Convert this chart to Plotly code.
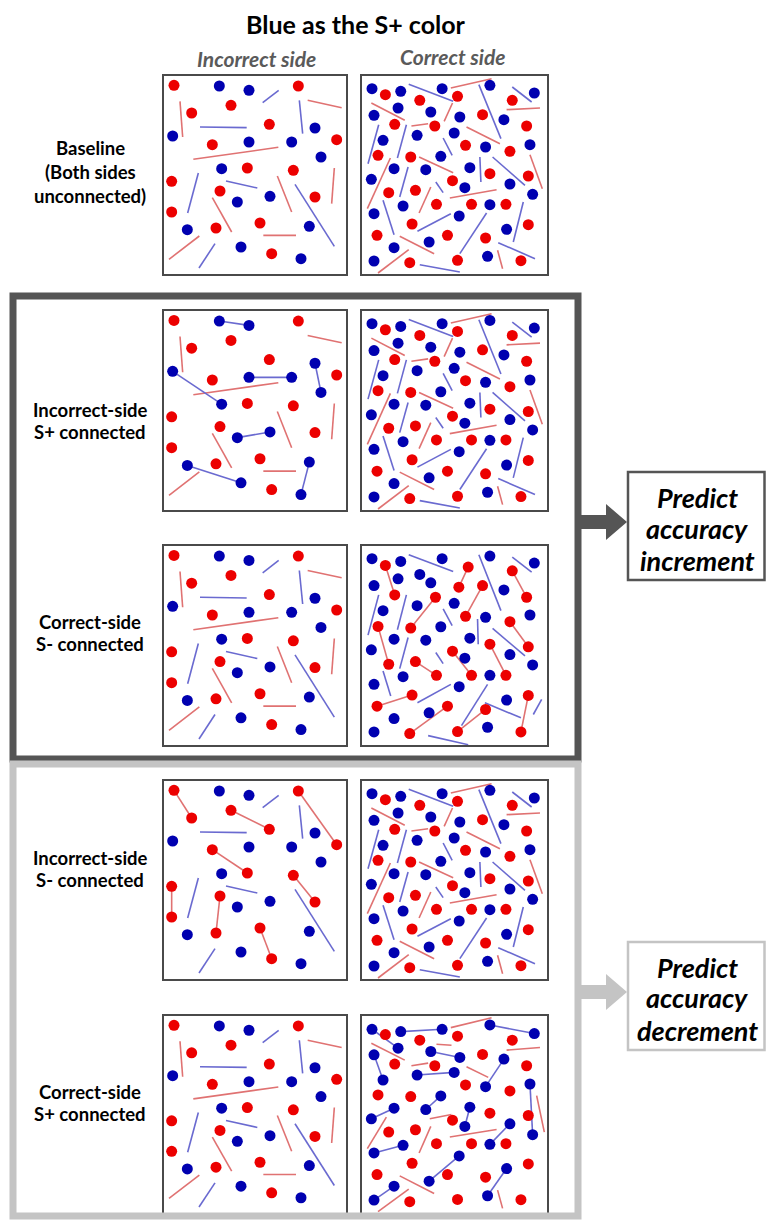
import plotly.graph_objects as go

W, H = 774, 1228
OFF = 8  # default page margin of the html body
FW, FH = W - 2 * OFF, H - 2 * OFF

# ---------------- data: dot / line positions inside each stimulus panel ----------------
# Incorrect side (shared layout)
INC_RED = [(42,40),(415,42),(213,100),(95,123),(328,157),(530,203),(157,218),(262,288),
           (400,295),(35,328),(180,357),(465,375),(35,420),(300,453),(168,468),(335,545)]
INC_BLUE = [(178,42),(267,55),(465,168),(38,192),(267,210),(395,210),(483,255),(185,290),
            (330,373),(232,390),(448,463),(82,473),(243,525),(423,560)]
INC_RED_LINES = [((60,88),(68,195)),((443,85),(545,107)),((100,262),(355,226)),((523,288),(515,395)),
                 ((352,312),(395,420)),((157,377),(215,480)),((310,490),(408,490)),((27,562),(118,492))]
INC_BLUE_LINES = [((308,92),(356,55)),((418,85),(428,185)),((120,165),(260,167)),((198,327),(292,348)),
                  ((115,303),(83,423)),((405,337),(523,523)),((165,515),(117,588))]
INC_BLUE_PAIRS = [((178,42),(267,55)),((38,192),(185,290)),((267,210),(395,210)),((465,168),(483,255)),
                  ((232,390),(330,373)),((82,473),(243,525)),((448,463),(423,560))]
INC_RED_PAIRS = [((42,40),(95,123)),((213,100),(328,157)),((415,42),(530,203)),((157,218),(262,288)),
                 ((400,295),(465,375)),((35,328),(35,420)),((180,357),(168,468)),((300,453),(335,545))]

# Correct side (baseline layout)
COR_RED = [(82,68),(185,85),(298,73),(462,85),(373,128),(110,157),(230,162),(505,162),(322,220),
           (455,238),(60,250),(158,255),(510,312),(395,305),(283,326),(92,362),(172,355),(235,397),
           (340,397),(443,397),(162,456),(510,458),(57,490),(268,490),(382,498),(155,572),(298,565),(488,566)]
COR_BLUE = [(42,50),(128,58),(252,50),(395,40),(528,63),(120,108),(218,120),(48,130),(305,135),
            (437,143),(177,190),(288,183),(75,205),(515,218),(382,225),(248,253),(108,290),(203,293),
            (335,287),(40,322),(455,336),(320,347),(523,367),(135,402),(395,398),(48,425),(303,432),
            (445,472),(108,527),(213,510),(48,567),(388,553)]
COR_RED_LINES = [((278,48),(400,20)),((40,93),(140,145)),((445,113),(545,108)),((160,162),(210,155)),
                 ((258,148),(283,93)),((325,165),(425,215)),((515,248),(552,350)),((183,255),(285,302)),
                 ((28,410),(97,258)),((183,423),(218,345)),((275,378),(415,353)),((125,493),(228,545)),
                 ((60,603),(152,533)),((418,535),(433,590))]
COR_BLUE_LINES = [((152,37),(285,88)),((362,38),(428,200)),((462,45),(520,90)),((30,275),(62,158)),
                  ((118,258),(145,158)),((255,198),(282,250)),((125,375),(150,285)),((233,330),(255,362)),
                  ((365,255),(368,330)),((403,255),(500,340)),((75,385),(108,488)),((178,478),(278,425)),
                  ((305,545),(385,423)),((465,510),(495,390)),((420,512),(530,560)),((185,578),(305,600))]

# Correct side, S- (red) connected
COR3_BLUE = [(42,50),(128,58),(252,50),(395,42),(528,63),(120,110),(185,97),(218,122),(48,130),
             (437,143),(177,190),(288,183),(75,205),(515,218),(382,225),(248,253),(108,290),(203,293),
             (335,287),(40,322),(455,336),(320,347),(523,367),(135,402),(395,398),(48,425),(303,432),
             (445,472),(108,527),(213,510),(48,567),(388,553)]
COR3_RED_PAIRS = [((82,70),(110,158)),((330,75),(302,135)),((462,86),(505,165)),((232,165),(158,257)),
                  ((373,130),(322,222)),((60,252),(92,365)),((455,238),(510,313)),((283,326),(340,398)),
                  ((395,305),(443,398)),((172,357),(235,398)),((162,457),(57,490)),((510,458),(488,567)),
                  ((268,490),(155,572)),((382,500),(298,566))]
COR3_BLUE_LINES = [((152,38),(285,88)),((362,38),(428,205)),((462,45),(520,90)),((30,278),(62,158)),
                   ((118,262),(145,158)),((255,200),(282,250)),((125,378),(150,285)),((233,330),(255,363)),
                   ((358,230),(360,305)),((403,258),(500,340)),((75,385),(98,460)),((178,480),(278,425)),
                   ((310,548),(388,425)),((380,480),(488,525)),((525,515),(550,470)),((210,578),(330,605))]

# Correct side, S+ (blue) connected
COR5_BLUE_PAIRS = [((42,52),(120,109)),((128,59),(252,52)),((395,39),(528,65)),((48,129),(75,205)),
                   ((218,119),(305,137)),((177,190),(288,182)),((437,142),(382,225)),((515,217),(523,370)),
                   ((248,253),(203,294)),((108,290),(40,322)),((335,287),(320,345)),((455,337),(395,399)),
                   ((135,402),(48,425)),((303,434),(213,510)),((108,525),(48,567)),((445,472),(388,554))]
COR5_RED_LINES = [((278,47),(400,17)),((40,94),(140,145)),((235,97),(280,100)),((445,115),(545,107)),
                  ((160,162),(210,154)),((325,165),(390,197)),((535,252),(558,362)),((215,322),(280,309)),
                  ((28,412),(85,317)),((183,425),(218,345)),((275,377),(415,354)),((125,494),(228,547)),
                  ((60,602),(152,534)),((418,537),(433,592))]

TITLE = "Blue as the S+ color"
COL_HEADERS = ["Incorrect side", "Correct side"]
ROW_LABELS = [["Baseline", "(Both sides", "unconnected)"],
              ["Incorrect-side", "S+ connected"],
              ["Correct-side", "S- connected"],
              ["Incorrect-side", "S- connected"],
              ["Correct-side", "S+ connected"]]
OUTCOMES = [["Predict", "accuracy", "increment"], ["Predict", "accuracy", "decrement"]]

# ---------------- styling / layout ----------------
RED, BLUE = "#ec0000", "#0000b0"
RED_LINE, BLUE_LINE = "#e07272", "#6a6ad0"
FONT = "Lato"

ROW_Y = [(76, 274), (311, 510), (546, 745), (781, 979), (1016, 1213)]
COL_X = [(164, 346), (362, 547)]
COL_RANGE = [(12, 558), (12, 566)]


def px(x):
    return (x - OFF) / FW


def py(y):
    return 1 - (y - OFF) / FH


def pts(pairs):
    return [p for pr in pairs for p in pr]


panels = [
    # row, col, reds, blues, red_lines, blue_lines, red_pairs, blue_pairs
    (0, 0, INC_RED, INC_BLUE, INC_RED_LINES, INC_BLUE_LINES, [], []),
    (0, 1, COR_RED, COR_BLUE, COR_RED_LINES, COR_BLUE_LINES, [], []),
    (1, 0, INC_RED, [], INC_RED_LINES, [], [], INC_BLUE_PAIRS),
    (1, 1, COR_RED, COR_BLUE, COR_RED_LINES, COR_BLUE_LINES, [], []),
    (2, 0, INC_RED, INC_BLUE, INC_RED_LINES, INC_BLUE_LINES, [], []),
    (2, 1, [], COR3_BLUE, [], COR3_BLUE_LINES, COR3_RED_PAIRS, []),
    (3, 0, [], INC_BLUE, [], INC_BLUE_LINES, INC_RED_PAIRS, []),
    (3, 1, COR_RED, COR_BLUE, COR_RED_LINES, COR_BLUE_LINES, [], []),
    (4, 0, INC_RED, INC_BLUE, INC_RED_LINES, INC_BLUE_LINES, [], []),
    (4, 1, COR_RED, [], COR5_RED_LINES, [], [], COR5_BLUE_PAIRS),
]

fig = go.Figure()
layout_axes = {}


def seg_xy(segs):
    xs, ys = [], []
    for (a, b) in segs:
        xs += [a[0], b[0], None]
        ys += [a[1], b[1], None]
    return xs, ys


for i, (r, c, reds, blues, rl, bl, rp, bp) in enumerate(panels):
    k = i + 1
    xa = "x" if k == 1 else f"x{k}"
    ya = "y" if k == 1 else f"y{k}"
    axis_common = dict(showgrid=False, zeroline=False, showticklabels=False, ticks="",
                       showline=True, mirror=True, linecolor="#4a4a4a", linewidth=1.6,
                       fixedrange=True)
    layout_axes["xaxis" if k == 1 else f"xaxis{k}"] = dict(
        domain=[px(COL_X[c][0]), px(COL_X[c][1])], range=list(COL_RANGE[c]),
        anchor=ya, **axis_common)
    layout_axes["yaxis" if k == 1 else f"yaxis{k}"] = dict(
        domain=[py(ROW_Y[r][1]), py(ROW_Y[r][0])], range=[606, 12],
        anchor=xa, **axis_common)

    for segs, col in ((rl, RED_LINE), (bl, BLUE_LINE), (rp, RED_LINE), (bp, BLUE_LINE)):
        if segs:
            xs, ys = seg_xy(segs)
            fig.add_trace(go.Scatter(x=xs, y=ys, mode="lines", xaxis=xa, yaxis=ya,
                                     line=dict(color=col, width=1.6), hoverinfo="skip",
                                     showlegend=False))
    all_red = list(reds) + pts(rp)
    all_blue = list(blues) + pts(bp)
    for dots, col in ((all_red, RED), (all_blue, BLUE)):
        if dots:
            fig.add_trace(go.Scatter(x=[d[0] for d in dots], y=[d[1] for d in dots],
                                     mode="markers", xaxis=xa, yaxis=ya,
                                     marker=dict(color=col, size=11, line=dict(width=0)),
                                     hoverinfo="skip", showlegend=False))

shapes = []
# group frames
shapes.append(dict(type="rect", xref="paper", yref="paper", x0=px(13), x1=px(578),
                   y0=py(296), y1=py(759), line=dict(color="#555555", width=7)))
shapes.append(dict(type="rect", xref="paper", yref="paper", x0=px(13), x1=px(578),
                   y0=py(764), y1=py(1216), line=dict(color="#c4c4c4", width=7)))


def arrow_path(yc):
    p = [(581, yc - 7), (606, yc - 7), (606, yc - 18), (627, yc), (606, yc + 18),
         (606, yc + 7), (581, yc + 7)]
    return "M " + " L ".join(f"{px(a):.5f},{py(b):.5f}" for a, b in p) + " Z"


shapes.append(dict(type="path", xref="paper", yref="paper", path=arrow_path(522),
                   fillcolor="#555555", line=dict(width=0)))
shapes.append(dict(type="path", xref="paper", yref="paper", path=arrow_path(992),
                   fillcolor="#c4c4c4", line=dict(width=0)))
# outcome boxes
shapes.append(dict(type="rect", xref="paper", yref="paper", x0=px(628), x1=px(764.5),
                   y0=py(472), y1=py(580), line=dict(color="#555555", width=2.5)))
shapes.append(dict(type="rect", xref="paper", yref="paper", x0=px(628), x1=px(764.5),
                   y0=py(942), y1=py(1050), line=dict(color="#c4c4c4", width=2.5)))

ann = []


def text(x, y, s, size, color="black", italic=False):
    t = f"<b><i>{s}</i></b>" if italic else f"<b>{s}</b>"
    ann.append(dict(x=px(x), y=py(y), xref="paper", yref="paper", text=t, showarrow=False,
                    xanchor="center", yanchor="middle",
                    font=dict(family=FONT, size=size, color=color)))


text(356, 24, TITLE, 25)
text(256, 58, COL_HEADERS[0], 21, "#5a5a5a", italic=True)
text(452, 57, COL_HEADERS[1], 21, "#5a5a5a", italic=True)

label_y = [[148, 172, 196], [410, 432], [622, 644], [858, 880], [1092, 1114]]
for lines, ys in zip(ROW_LABELS, label_y):
    for s, y in zip(lines, ys):
        text(90, y, s, 18.5)

for lines, ys in zip(OUTCOMES, [[497, 528, 560], [967, 998, 1030]]):
    for s, y in zip(lines, ys):
        text(697, y, s, 27, italic=True)

fig.update_layout(width=FW, height=FH, margin=dict(l=0, r=0, t=0, b=0),
                  paper_bgcolor="white", plot_bgcolor="white",
                  shapes=shapes, annotations=ann, **layout_axes)

fig.write_html("out.html")
